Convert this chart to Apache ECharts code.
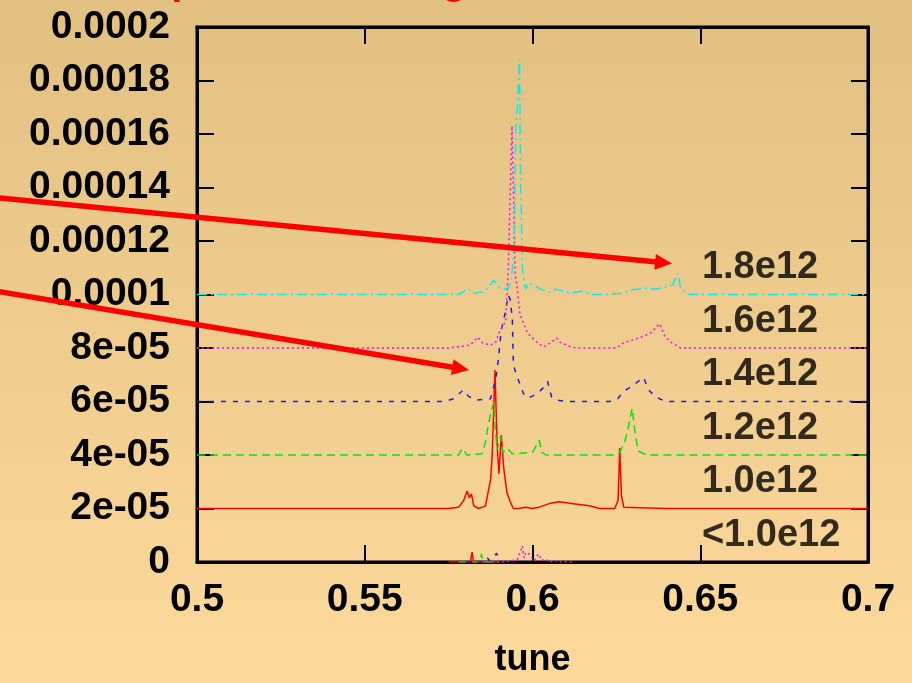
<!DOCTYPE html>
<html>
<head>
<meta charset="utf-8">
<script src="https://cdn.jsdelivr.net/npm/echarts@6/dist/echarts.min.js"></script>
<style>
  html, body { margin: 0; padding: 0; }
  #chart { width: 912px; height: 683px; }
</style>
</head>
<body>
<div id="chart"></div>
<script>
// Axis ticks
const xTicks = [0.5, 0.55, 0.6, 0.65, 0.7];
const xTickLabels = ['0.5', '0.55', '0.6', '0.65', '0.7'];
const yTicks = [0, 2e-5, 4e-5, 6e-5, 8e-5, 1e-4, 1.2e-4, 1.4e-4, 1.6e-4, 1.8e-4, 2e-4];
const yTickLabels = ['0', '2e-05', '4e-05', '6e-05', '8e-05', '0.0001', '0.00012', '0.00014', '0.00016', '0.00018', '0.0002'];

// Curve names (bunch intensity) and the level each spectrum is offset to
const curveNames = ['<1.0e12', '1.0e12', '1.2e12', '1.4e12', '1.6e12', '1.8e12'];
const curveOffsets = [0, 2e-5, 4e-5, 6e-5, 8e-5, 1e-4];
const labelTune = 0.6505;
const labelLift = 1e-5;

// Spectra: [tune, amplitude]
const spec10 = [
  [0.500, 2.0e-5], [0.560, 2.0e-5], [0.575, 2.0e-5], [0.578, 2.05e-5], [0.5795, 2.3e-5],
  [0.5805, 2.65e-5], [0.5812, 2.4e-5], [0.5818, 2.55e-5], [0.5825, 2.1e-5], [0.584, 2.0e-5],
  [0.585, 2.05e-5], [0.586, 2.1e-5], [0.5866, 2.5e-5], [0.5875, 3.07e-5], [0.5880, 4.0e-5],
  [0.5888, 7.18e-5], [0.5895, 4.3e-5], [0.5900, 3.3e-5], [0.5907, 4.75e-5], [0.5914, 3.55e-5],
  [0.5924, 2.58e-5], [0.5934, 2.24e-5], [0.5943, 2.0e-5], [0.596, 2.0e-5], [0.598, 2.05e-5],
  [0.600, 2.0e-5], [0.602, 2.05e-5], [0.6054, 2.2e-5], [0.608, 2.25e-5], [0.611, 2.2e-5],
  [0.614, 2.15e-5], [0.617, 2.1e-5], [0.620, 2.0e-5], [0.6245, 2.0e-5], [0.6255, 2.3e-5],
  [0.6260, 4.26e-5], [0.6265, 2.5e-5], [0.6272, 2.05e-5], [0.640, 2.0e-5], [0.700, 2.0e-5]
];
const spec12 = [
  [0.500, 4.0e-5], [0.570, 4.0e-5], [0.578, 4.0e-5], [0.579, 4.25e-5], [0.5805, 4.0e-5],
  [0.585, 4.05e-5], [0.586, 4.5e-5], [0.5868, 5.1e-5], [0.5876, 5.6e-5], [0.5884, 5.95e-5],
  [0.5890, 4.8e-5], [0.5895, 4.2e-5], [0.5905, 4.7e-5], [0.5912, 4.1e-5], [0.5925, 4.25e-5],
  [0.594, 4.05e-5], [0.600, 4.1e-5], [0.602, 4.55e-5], [0.6028, 4.1e-5], [0.604, 4.0e-5],
  [0.624, 4.0e-5], [0.626, 4.1e-5], [0.6275, 4.5e-5], [0.6285, 5.0e-5], [0.6297, 5.75e-5],
  [0.6305, 4.9e-5], [0.6315, 4.15e-5], [0.634, 4.0e-5], [0.700, 4.0e-5]
];
const spec14 = [
  [0.500, 6.0e-5], [0.574, 6.0e-5], [0.5764, 6.1e-5], [0.5794, 6.43e-5], [0.5809, 6.2e-5],
  [0.583, 6.05e-5], [0.5875, 6.1e-5], [0.589, 6.8e-5], [0.5898, 7.55e-5], [0.5907, 8.67e-5],
  [0.592, 9.4e-5], [0.5928, 9.98e-5], [0.5934, 9.8e-5], [0.594, 9.05e-5], [0.5943, 7.36e-5],
  [0.5952, 7.0e-5], [0.5964, 6.6e-5], [0.5973, 6.3e-5], [0.5985, 6.13e-5], [0.600, 6.2e-5],
  [0.6015, 6.3e-5], [0.6039, 6.6e-5], [0.6045, 6.75e-5], [0.6057, 6.17e-5], [0.6072, 6.05e-5],
  [0.610, 6.0e-5], [0.623, 6.0e-5], [0.6254, 6.1e-5], [0.6269, 6.35e-5], [0.6287, 6.5e-5],
  [0.631, 6.7e-5], [0.6331, 6.9e-5], [0.6346, 6.43e-5], [0.6367, 6.17e-5], [0.6397, 6.0e-5],
  [0.700, 6.0e-5]
];
const spec16 = [
  [0.500, 8.0e-5], [0.575, 8.0e-5], [0.581, 8.1e-5], [0.5824, 8.22e-5], [0.5836, 8.4e-5],
  [0.5851, 8.2e-5], [0.5875, 8.1e-5], [0.589, 8.22e-5], [0.5904, 8.67e-5], [0.5920, 9.0e-5],
  [0.5928, 11.0e-5], [0.5934, 14.0e-5], [0.5939, 16.3e-5], [0.5944, 13.5e-5], [0.5948, 10.8e-5],
  [0.5955, 10.2e-5], [0.5962, 9.3e-5], [0.5973, 8.93e-5], [0.5985, 8.56e-5], [0.600, 8.37e-5],
  [0.6015, 8.2e-5], [0.6033, 8.04e-5], [0.6054, 8.2e-5], [0.6072, 8.37e-5], [0.6084, 8.2e-5],
  [0.6113, 8.05e-5], [0.613, 8.0e-5], [0.625, 8.0e-5], [0.6272, 8.2e-5], [0.6299, 8.3e-5],
  [0.6322, 8.4e-5], [0.6352, 8.56e-5], [0.637, 8.8e-5], [0.6379, 8.9e-5], [0.6394, 8.45e-5],
  [0.6412, 8.22e-5], [0.6442, 8.0e-5], [0.700, 8.0e-5]
];
const spec18 = [
  [0.500, 10.0e-5], [0.578, 10.0e-5], [0.5797, 10.13e-5], [0.5806, 10.24e-5], [0.5824, 10.05e-5],
  [0.5854, 10.1e-5], [0.5875, 10.36e-5], [0.5884, 10.54e-5], [0.5899, 10.28e-5], [0.5913, 10.2e-5],
  [0.5928, 10.24e-5], [0.5937, 10.5e-5], [0.5946, 12.0e-5], [0.5950, 16.2e-5], [0.5955, 17.0e-5],
  [0.5961, 18.8e-5], [0.5965, 14.0e-5], [0.5970, 11.0e-5], [0.5976, 10.4e-5], [0.598, 10.2e-5],
  [0.5988, 10.43e-5], [0.6009, 10.3e-5], [0.6024, 10.2e-5], [0.6054, 10.07e-5], [0.6069, 10.2e-5],
  [0.6113, 10.05e-5], [0.6152, 10.13e-5], [0.6173, 10.0e-5], [0.622, 10.0e-5], [0.6272, 10.05e-5],
  [0.6293, 10.17e-5], [0.6337, 10.24e-5], [0.6367, 10.2e-5], [0.6397, 10.28e-5], [0.6418, 10.36e-5],
  [0.6433, 10.8e-5], [0.6442, 10.24e-5], [0.6457, 10.05e-5], [0.647, 10.0e-5], [0.700, 10.0e-5]
];
// Lowest intensities, left at zero offset
const lowRed = [[0.575, 0], [0.5815, 0], [0.5820, 0.37e-5], [0.5824, 0], [0.590, 0]];
const lowGreen = [[0.578, 0], [0.5843, 0], [0.5848, 0.3e-5], [0.5852, 0], [0.590, 0]];
const lowBlue = [
  [0.580, 0], [0.586, 0], [0.5866, 0.15e-5], [0.5872, 0.05e-5], [0.588, 0.1e-5],
  [0.5893, 0.33e-5], [0.5902, 0.05e-5], [0.591, 0], [0.595, 0]
];
const lowMagenta = [
  [0.585, 0], [0.592, 0], [0.5955, 0.1e-5], [0.597, 0.6e-5], [0.5975, 0.15e-5],
  [0.598, 0.35e-5], [0.599, 0.3e-5], [0.6005, 0.05e-5], [0.6018, 0.3e-5], [0.6028, 0.05e-5],
  [0.6036, 0.12e-5], [0.605, 0], [0.6069, 0.05e-5], [0.608, 0], [0.612, 0]
];

const FONT = 'Liberation Sans, Arial, sans-serif';
const RED = '#ff0000', GREEN = '#00e800', BLUE = '#1a1ae6', MAGENTA = '#ff00ff', CYAN = '#00f0f0';

function curve(data, color, dash) {
  return {
    type: 'line', data: data, symbol: 'none', animation: false, silent: true,
    lineStyle: { color: color, width: 1.5, type: dash }, z: 3
  };
}

// Annotation arrow: shaft plus triangular head ending at (x2, y2)
function arrow(x1, y1, x2, y2) {
  const len = Math.hypot(x2 - x1, y2 - y1);
  const ux = (x2 - x1) / len, uy = (y2 - y1) / len;
  const head = 17, half = 8;
  const bx = x2 - ux * head, by = y2 - uy * head;
  return [
    { type: 'line', z: 100, shape: { x1: x1, y1: y1, x2: bx + ux * 2, y2: by + uy * 2 },
      style: { stroke: RED, lineWidth: 5.5 } },
    { type: 'polygon', z: 100,
      shape: { points: [[x2, y2], [bx - uy * half, by + ux * half], [bx + uy * half, by - ux * half]] },
      style: { fill: RED } }
  ];
}

const chart = echarts.init(document.getElementById('chart'), null, { renderer: 'canvas' });

const axisLineStyle = { show: true, onZero: false, lineStyle: { color: '#000', width: 3 } };
const tickStyle = { show: true, inside: true, length: 17, lineStyle: { color: '#000', width: 2 } };

chart.setOption({
  animation: false,
  backgroundColor: new echarts.graphic.LinearGradient(0, 0, 0, 1, [
    { offset: 0, color: '#e1c081' },
    { offset: 1, color: '#fdd99c' }
  ]),
  grid: {
    left: 197, right: 44, top: 27, bottom: 121, containLabel: false,
    show: true, borderColor: '#000', borderWidth: 3, backgroundColor: 'transparent'
  },
  xAxis: [
    {
      type: 'value', min: 0.5, max: 0.7, interval: 0.05, position: 'bottom',
      name: 'tune', nameLocation: 'middle', nameGap: 80,
      nameTextStyle: { fontFamily: FONT, fontSize: 36, fontWeight: 'bold', color: '#000' },
      axisLine: axisLineStyle, axisTick: tickStyle, splitLine: { show: false },
      axisLabel: {
        fontFamily: FONT, fontSize: 39, fontWeight: 'bold', color: '#000', margin: 19,
        formatter: v => xTickLabels[Math.round((v - xTicks[0]) / 0.05)]
      }
    },
    {
      type: 'value', min: 0.5, max: 0.7, interval: 0.05, position: 'top',
      axisLine: axisLineStyle, axisTick: tickStyle, splitLine: { show: false },
      axisLabel: { show: false }
    }
  ],
  yAxis: [
    {
      type: 'value', min: 0, max: 2e-4, interval: 2e-5, position: 'left',
      axisLine: axisLineStyle, axisTick: tickStyle, splitLine: { show: false },
      axisLabel: {
        fontFamily: FONT, fontSize: 39, fontWeight: 'bold', color: '#000', margin: 27,
        formatter: v => yTickLabels[Math.round(v / 2e-5)]
      }
    },
    {
      type: 'value', min: 0, max: 2e-4, interval: 2e-5, position: 'right',
      axisLine: axisLineStyle, axisTick: tickStyle, splitLine: { show: false },
      axisLabel: { show: false }
    }
  ],
  series: [
    curve(lowRed, RED, 'solid'),
    curve(lowGreen, GREEN, [8, 5]),
    curve(lowBlue, BLUE, [5, 7]),
    curve(lowMagenta, MAGENTA, [2, 3]),
    curve(spec10, RED, 'solid'),
    curve(spec12, GREEN, [8, 5]),
    curve(spec14, BLUE, [5, 7]),
    curve(spec16, MAGENTA, [2, 3]),
    curve(spec18, CYAN, [10, 4, 2, 4]),
    {
      type: 'scatter', symbolSize: 0, animation: false, silent: true, z: 5,
      data: curveNames.map((n, i) => ({ value: [labelTune, curveOffsets[i] + labelLift], name: n })),
      label: {
        show: true, position: 'right', distance: 0, formatter: p => p.name,
        fontFamily: FONT, fontSize: 38, fontWeight: 'bold', color: '#000',
        align: 'left', verticalAlign: 'middle'
      }
    }
  ],
  graphic: [
    {
      type: 'text', left: 167, top: -37.5, z: 100,
      style: {
        text: '(Tune vs. Charge Scan Data All Bunches)',
        fill: RED, font: 'bold 40px ' + FONT
      }
    },
    ...arrow(-10, 197, 672, 263.5),
    ...arrow(-10, 290, 469, 370)
  ]
});
</script>
</body>
</html>
